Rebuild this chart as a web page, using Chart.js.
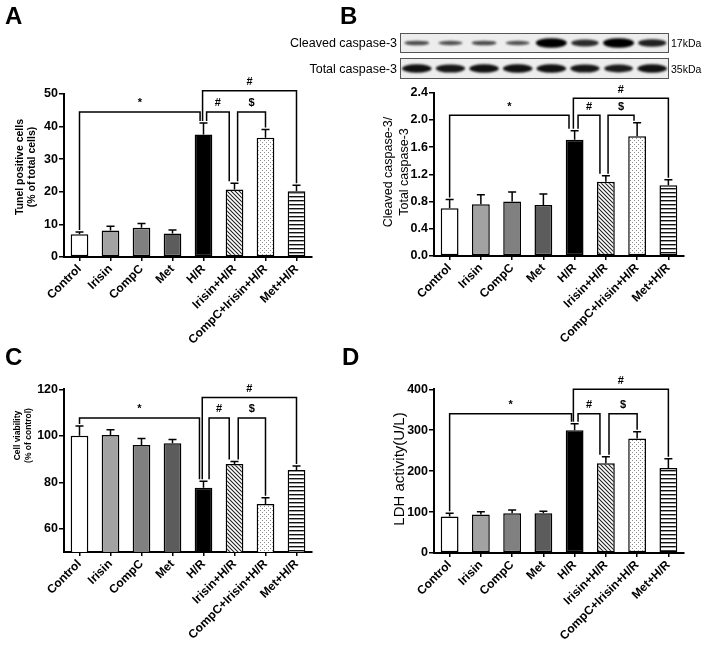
<!DOCTYPE html>
<html>
<head>
<meta charset="utf-8">
<script src="https://cdn.jsdelivr.net/npm/chart.js@4.4.1/dist/chart.umd.min.js"></script>
<style>
body{margin:0;background:#fff;width:708px;height:646px;position:relative;overflow:hidden;font-family:"Liberation Sans",Arial,Helvetica,sans-serif;color:#000}
canvas{position:absolute}
.panel{position:absolute;font-weight:bold;font-size:24px;line-height:24px}
.ytitle{position:absolute;width:170px;text-align:center;transform:rotate(-90deg);white-space:nowrap}
.blot{position:absolute;white-space:nowrap}
</style>
</head>
<body>
<canvas id="cA" width="354" height="352" style="left:0;top:0"></canvas>
<canvas id="cB" width="354" height="352" style="left:354px;top:0"></canvas>
<canvas id="cC" width="354" height="316" style="left:0;top:330px"></canvas>
<canvas id="cD" width="354" height="316" style="left:354px;top:330px"></canvas>

<div class="panel" style="left:5px;top:4px">A</div>
<div class="panel" style="left:340px;top:4px">B</div>
<div class="panel" style="left:5px;top:345px">C</div>
<div class="panel" style="left:342px;top:345px">D</div>

<div class="ytitle" style="left:-60px;top:155px;font-size:10.5px;line-height:12px;font-weight:bold">Tunel positive cells<br>(% of total cells)</div>
<div class="ytitle" style="left:311px;top:156px;font-size:12.5px;line-height:16px">Cleaved caspase-3/<br>Total caspase-3</div>
<div class="ytitle" style="left:-63px;top:425px;font-size:8.5px;line-height:10.5px;font-weight:bold">Cell viability<br>(% of control)</div>
<div class="ytitle" style="left:314px;top:460px;font-size:15px;line-height:18px">LDH activity(U/L)</div>

<div class="blot" style="right:311px;top:36px;font-size:12.5px;line-height:14px">Cleaved caspase-3</div>
<div class="blot" style="right:311px;top:62px;font-size:12.5px;line-height:14px">Total caspase-3</div>
<div class="blot" style="left:671px;top:37px;font-size:10.5px;line-height:12px">17kDa</div>
<div class="blot" style="left:671px;top:63px;font-size:10.5px;line-height:12px">35kDa</div>

<script>
// groups on the x axis
const groups = ['Control', 'Irisin', 'CompC', 'Met', 'H/R', 'Irisin+H/R', 'CompC+Irisin+H/R', 'Met+H/R'];

// A: tunel positive cells (% of total)
const tunelMean = [7.0, 8.1, 9.0, 7.2, 37.6, 20.7, 36.6, 20.2];
const tunelErr = [0.7, 1.3, 1.3, 1.1, 3.5, 1.9, 2.5, 1.8];
const tunelTicks = [0, 10, 20, 30, 40, 50];

// B: cleaved / total caspase-3
const caspMean = [0.70, 0.76, 0.80, 0.75, 1.71, 1.09, 1.76, 1.04];
const caspErr = [0.13, 0.14, 0.14, 0.16, 0.13, 0.09, 0.20, 0.08];
const caspTicks = [0, 0.4, 0.8, 1.2, 1.6, 2.0, 2.4];
// blot band strength per lane
const cleavedBand = [0.3, 0.25, 0.3, 0.25, 1.0, 0.6, 1.0, 0.7];
const totalBand = [0.85, 0.8, 0.85, 0.85, 0.85, 0.8, 0.75, 0.85];

// C: cell viability (% of control)
const viabMean = [100.0, 100.3, 96.0, 96.8, 77.6, 87.9, 70.6, 85.3];
const viabErr = [4.2, 2.3, 2.8, 1.6, 2.8, 1.0, 2.7, 1.7];
const viabTicks = [60, 80, 100, 120];

// D: LDH activity (U/L)
const ldhMean = [89, 94, 97, 97, 300, 219, 280, 208];
const ldhErr = [8, 7, 8, 5, 16, 16, 16, 22];
const ldhTicks = [0, 100, 200, 300, 400];

// significance brackets: [from group pos, to group pos, line level, label]
const bracketsA = [[0, 3.89, 44.5, '*'], [3.97, 7, 51, '#'], [4.1, 4.83, 44.5, '#'], [5.1, 6, 44.5, '$']];
const bracketsB = [[0, 3.82, 2.07, '*'], [3.96, 7, 2.32, '#'], [4.11, 4.81, 2.07, '#'], [5.07, 5.9, 2.07, '$']];
const bracketsC = [[0, 3.87, 107.7, '*'], [3.96, 7, 116.5, '#'], [4.18, 4.83, 107.7, '#'], [5.12, 6, 107.7, '$']];
const bracketsD = [[0, 3.9, 340, '*'], [3.96, 7, 400, '#'], [4.11, 4.81, 340, '#'], [5.1, 6, 340, '$']];

const FONT = "'Liberation Sans', Arial, Helvetica, sans-serif";
Chart.defaults.font.family = FONT;
Chart.defaults.color = '#000';

function pattern(kind) {
    const c = document.createElement('canvas');
    c.width = 4; c.height = 4;
    const g = c.getContext('2d');
    g.fillStyle = '#fff';
    g.fillRect(0, 0, 4, 4);
    if (kind == 'hatch') {
        g.strokeStyle = '#222';
        g.lineWidth = 1.1;
        for (let k = -1; k <= 1; k++) {
            g.beginPath();
            g.moveTo(k * 4 - 1, -1);
            g.lineTo(k * 4 + 5, 5);
            g.stroke();
        }
    } else if (kind == 'dots') {
        g.fillStyle = '#8a8a8a';
        g.fillRect(0, 0, 1, 1);
        g.fillRect(2, 2, 1, 1);
    } else {
        g.fillStyle = '#111';
        g.fillRect(0, 0, 4, 1.4);
    }
    return g.createPattern(c, 'repeat');
}

const fills = ['#ffffff', '#a2a2a2', '#808080', '#5c5c5c', '#000000', pattern('hatch'), pattern('dots'), pattern('stripes')];

const errorBars = {
    id: 'errorBars',
    afterDatasetsDraw(chart) {
        const ds = chart.data.datasets[0];
        const ys = chart.scales.y;
        const ctx = chart.ctx;
        ctx.save();
        ctx.strokeStyle = '#000';
        ctx.lineWidth = 1.5;
        chart.getDatasetMeta(0).data.forEach((bar, i) => {
            const top = ys.getPixelForValue(ds.data[i] + ds.err[i]);
            ctx.beginPath();
            ctx.moveTo(bar.x, bar.y);
            ctx.lineTo(bar.x, top);
            ctx.moveTo(bar.x - 4, top);
            ctx.lineTo(bar.x + 4, top);
            ctx.stroke();
        });
        ctx.restore();
    }
};

const sigBrackets = {
    id: 'sigBrackets',
    afterDraw(chart) {
        const ds = chart.data.datasets[0];
        const xs = chart.scales.x, ys = chart.scales.y;
        const ctx = chart.ctx;
        ctx.save();
        ctx.strokeStyle = '#000';
        ctx.fillStyle = '#000';
        ctx.lineWidth = 1.5;
        ctx.font = 'bold 11px ' + FONT;
        ctx.textAlign = 'center';
        ctx.textBaseline = 'bottom';
        ds.brackets.forEach(([a, b, level, label]) => {
            const x1 = xs.getPixelForValue(a), x2 = xs.getPixelForValue(b);
            const yl = ys.getPixelForValue(level);
            const i1 = Math.round(a), i2 = Math.round(b);
            const y1 = ys.getPixelForValue(ds.data[i1] + ds.err[i1]) - 2;
            const y2 = ys.getPixelForValue(ds.data[i2] + ds.err[i2]) - 2;
            ctx.beginPath();
            ctx.moveTo(x1, y1);
            ctx.lineTo(x1, yl);
            ctx.lineTo(x2, yl);
            ctx.lineTo(x2, y2);
            ctx.stroke();
            ctx.fillText(label, (x1 + x2) / 2, yl - 3);
        });
        ctx.restore();
    }
};

// western blot strips above panel B
const blot = {
    id: 'blot',
    afterDraw(chart) {
        const ctx = chart.ctx;
        const strip = (top, bottom, bands) => {
            const x0 = 46, x1 = 315;
            ctx.save();
            ctx.fillStyle = '#ededed';
            ctx.fillRect(x0, top, x1 - x0, bottom - top);
            const lane = (x1 - x0) / bands.length;
            const cy = (top + bottom) / 2;
            ctx.filter = 'blur(1.2px)';
            bands.forEach((v, i) => {
                const cx = x0 + lane * (i + 0.5);
                ctx.fillStyle = 'rgba(0,0,0,' + (0.55 + 0.45 * v) + ')';
                ctx.beginPath();
                ctx.ellipse(cx, cy, 11 + 4.5 * v, 1.3 + 3.5 * v, 0, 0, Math.PI * 2);
                ctx.fill();
            });
            ctx.filter = 'none';
            ctx.strokeStyle = '#555';
            ctx.lineWidth = 1;
            ctx.strokeRect(x0 + 0.5, top + 0.5, x1 - x0 - 1, bottom - top - 1);
            ctx.restore();
        };
        strip(33, 53, cleavedBand);
        strip(58, 79, totalBand);
    }
};

function makeChart(id, mean, err, brackets, ticks, area, extra) {
    const canvas = document.getElementById(id);
    const step = ticks[1] - ticks[0];
    return new Chart(canvas, {
        type: 'bar',
        data: {
            labels: groups,
            datasets: [{
                data: mean,
                err: err,
                brackets: brackets,
                backgroundColor: fills,
                borderColor: '#000',
                borderWidth: 1.5,
                borderSkipped: false,
                barPercentage: 0.57,
                categoryPercentage: 1
            }]
        },
        options: {
            responsive: false,
            animation: false,
            devicePixelRatio: 1,
            layout: { padding: { left: 0, top: area.top, right: canvas.width - area.right, bottom: 0 } },
            plugins: { legend: { display: false }, tooltip: { enabled: false } },
            scales: {
                x: {
                    grid: { drawOnChartArea: false, offset: false, tickLength: 4, color: '#000', lineWidth: 1.5 },
                    border: { color: '#000', width: 2 },
                    ticks: { autoSkip: false, minRotation: 45, maxRotation: 45, padding: 1, color: '#000', font: { size: 12, weight: 'bold' } },
                    afterFit(s) { s.height = canvas.height - area.bottom; }
                },
                y: {
                    min: area.min,
                    max: ticks[ticks.length - 1],
                    grid: { drawOnChartArea: false, tickLength: 5, color: '#000', lineWidth: 1.5 },
                    border: { color: '#000', width: 2 },
                    ticks: {
                        stepSize: step,
                        padding: 1,
                        color: '#000',
                        font: { size: 12.5, weight: 'bold' },
                        callback: v => area.dec ? Number(v).toFixed(area.dec) : v
                    },
                    afterBuildTicks(s) { s.ticks = s.ticks.filter(t => ticks.some(v => Math.abs(v - t.value) < step / 100)); },
                    afterFit(s) { s.width = area.left; }
                }
            }
        },
        plugins: [errorBars, sigBrackets].concat(extra || [])
    });
}

makeChart('cA', tunelMean, tunelErr, bracketsA, tunelTicks, { left: 64, right: 312, top: 94, bottom: 257, min: 0 });
makeChart('cB', caspMean, caspErr, bracketsB, caspTicks, { left: 80, right: 330, top: 92.7, bottom: 256, min: 0, dec: 1 }, [blot]);
makeChart('cC', viabMean, viabErr, bracketsC, viabTicks, { left: 64, right: 312, top: 59.3, bottom: 222, min: 50 });
makeChart('cD', ldhMean, ldhErr, bracketsD, ldhTicks, { left: 80, right: 330, top: 59.3, bottom: 223, min: 0 });
</script>
</body>
</html>
